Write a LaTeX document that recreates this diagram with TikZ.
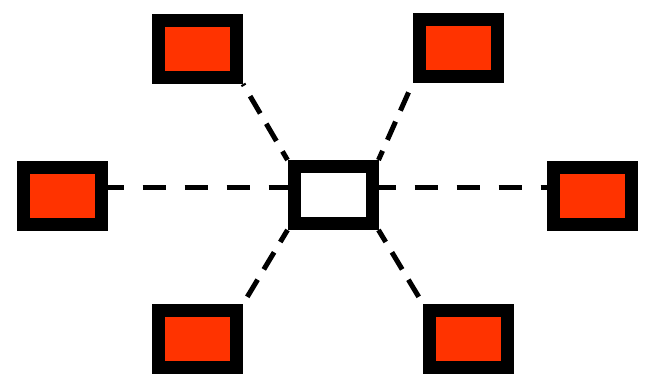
\documentclass[tikz,border=0pt]{standalone}
\usepackage{tikz}
\usetikzlibrary{positioning}
\definecolor{portred}{RGB}{255,51,0}

\begin{document}
\begin{tikzpicture}[x=1pt,y=-1pt,
    port/.style={draw=black,line width=13pt,fill=portred,
                 minimum width=78pt,minimum height=57pt,inner sep=0pt},
    hub/.style={port,fill=white},
    link/.style={line width=5pt,dash pattern=on 20pt off 12pt},
    linkh/.style={line width=5pt,dash pattern=on 23pt off 19pt}]

\useasboundingbox (0,0) rectangle (654,382);

% Hub
\node[hub] (hub) at (333,195) {};

% Ports
\node[port] (portnw) at (197.5,49) {};
\node[port] (portne) at (458,48.5) {};
\node[port] (portw) at (62,196) {};
\node[port] (porte) at (592,196) {};
\node[port] (portsw) at (197.5,339) {};
\node[port] (portse) at (468.5,339) {};

% Links
\draw[linkh,dash phase=7pt] ([yshift=8pt]portw.east) -- ([yshift=7pt]hub.west);
\draw[linkh,dash phase=6pt] ([yshift=7pt]hub.east) -- ([yshift=8pt]porte.west);
\draw[link,dash phase=10pt] (hub.north west) -- (portnw.south east);
\draw[link,dash phase=10pt] (hub.north east) -- (portne.south west);
\draw[link,dash phase=6pt] (hub.south west) -- (portsw.north east);
\draw[link,dash phase=6pt] (hub.south east) -- (portse.north west);

\end{tikzpicture}
\end{document}
